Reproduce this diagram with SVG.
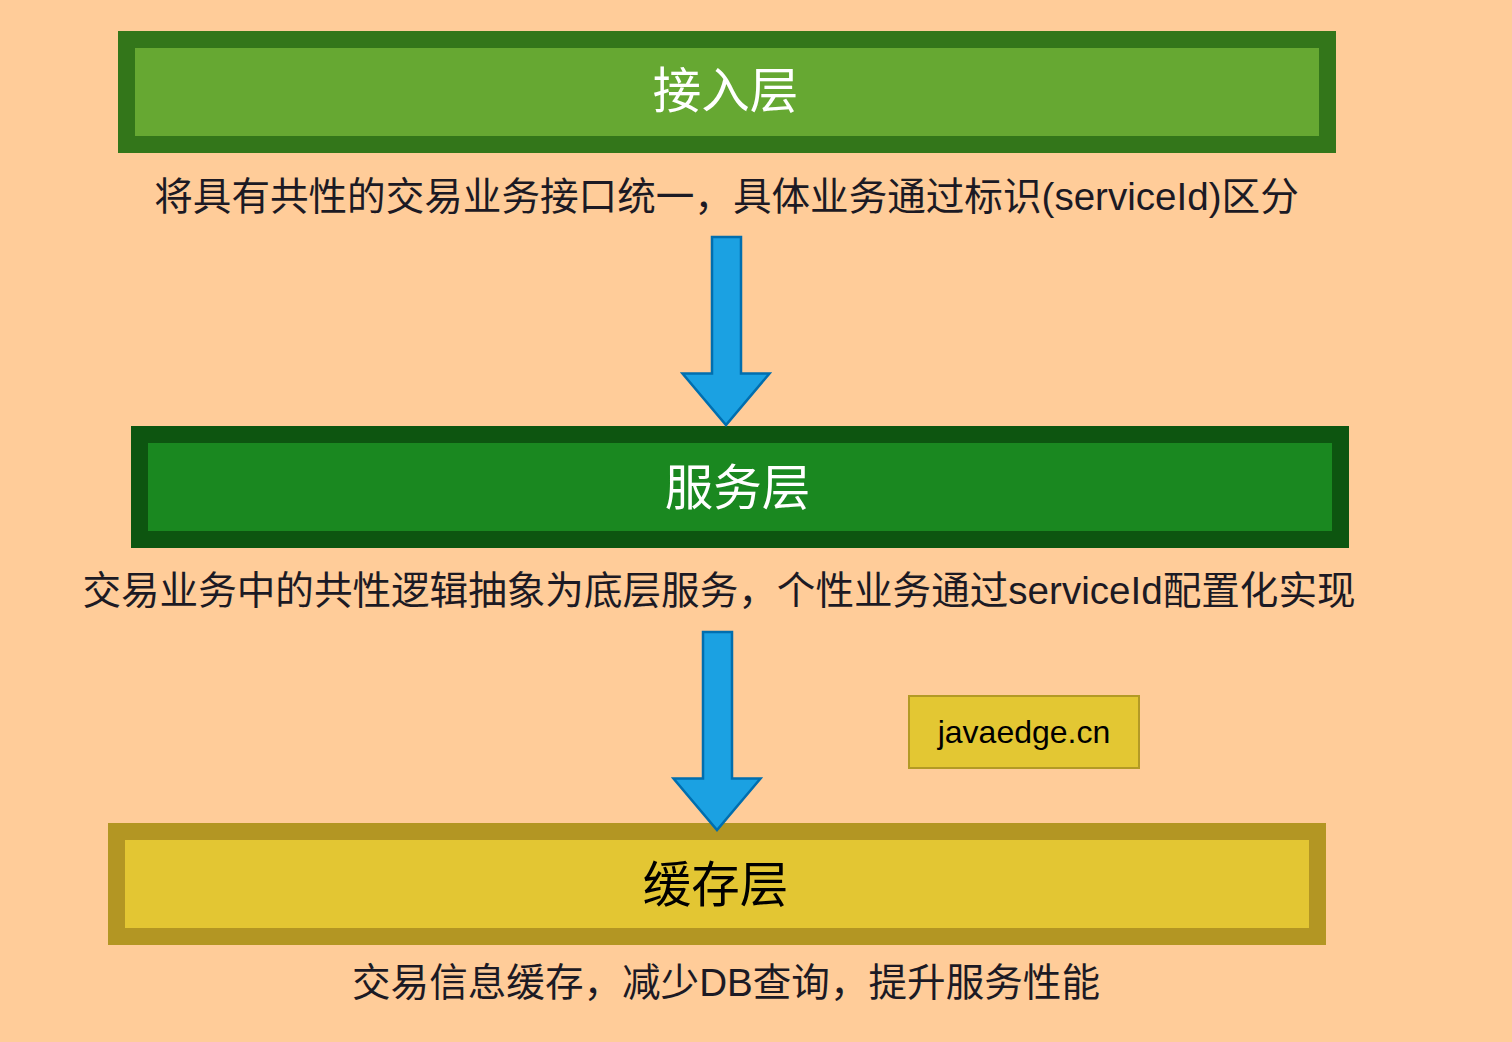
<svg xmlns="http://www.w3.org/2000/svg" width="1512" height="1042" viewBox="0 0 1512 1042">
<style>
.cap{font-family:"Liberation Sans","Noto Sans CJK SC",sans-serif;font-size:38.6px;fill:#1c1a24;text-anchor:middle}
.title{font-family:"Liberation Sans","Noto Sans CJK SC",sans-serif;font-size:48.5px;text-anchor:middle}
.arrow{fill:#1ba1e2;stroke:#006eaf;stroke-width:2.5;stroke-linejoin:miter}
</style>
<rect width="1512" height="1042" fill="#ffcc99"/>
<g id="access-layer">
<rect x="126.5" y="39.5" width="1201" height="105" fill="#66a832" stroke="#33761a" stroke-width="17"/>
<text class="title" x="725.5" y="108" fill="#ffffff">接入层</text>
</g>
<text class="cap" x="726.5" y="210">将具有共性的交易业务接口统一，具体业务通过标识(serviceId)区分</text>
<g id="service-layer">
<rect x="139.5" y="434.5" width="1201" height="105" fill="#1a8820" stroke="#0d5510" stroke-width="17"/>
<text class="title" x="737.5" y="505" fill="#ffffff">服务层</text>
</g>
<text class="cap" x="719" y="604">交易业务中的共性逻辑抽象为底层服务，个性业务通过serviceId配置化实现</text>
<g id="cache-layer">
<rect x="116.5" y="831.5" width="1201" height="105" fill="#e3c633" stroke="#b39623" stroke-width="17"/>
<text class="title" x="715.5" y="902" fill="#000000">缓存层</text>
</g>
<text class="cap" x="726" y="996">交易信息缓存，减少DB查询，提升服务性能</text>
<g id="watermark">
<rect x="909" y="696" width="230" height="72" fill="#e3c733" stroke="#b39a25" stroke-width="2"/>
<text x="1024" y="743" font-family="Liberation Sans, sans-serif" font-size="32" fill="#000000" text-anchor="middle">javaedge.cn</text>
</g>
<g id="connectors">
<polygon class="arrow" points="712,237 741,237 741,373.5 769.5,373.5 726,425 682.5,373.5 712,373.5"/>
<polygon class="arrow" points="703,632 732,632 732,778.5 760.5,778.5 717,830 673.5,778.5 703,778.5"/>
</g>
</svg>
